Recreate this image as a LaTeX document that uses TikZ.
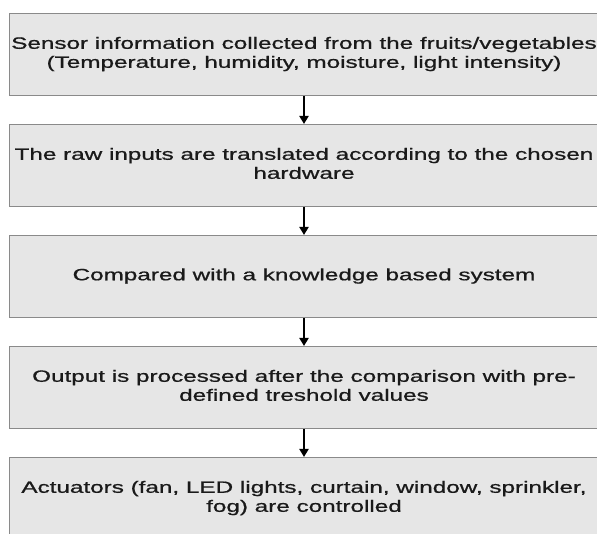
\documentclass[tikz,border=0pt]{standalone}
\usepackage{fontspec}
\setmainfont{Liberation Sans}
\usetikzlibrary{arrows.meta}
\definecolor{boxfill}{HTML}{E6E6E6}
\definecolor{boxline}{HTML}{8A8A8A}
\definecolor{txt}{HTML}{1A1A1A}
\newcommand{\boxtext}[1]{\scalebox{1.48}[1]{\fontsize{12.3}{14.25}\selectfont\addfontfeature{FakeBold=0.7}\begin{tabular}{@{}c@{}}#1\end{tabular}}}
\begin{document}
\begin{tikzpicture}[x=0.75pt,y=-0.75pt,
  stepbox/.style={draw=boxline, line width=0.9pt, fill=boxfill, rectangle,
    minimum width=442pt, minimum height=61.5pt, inner sep=0pt, text=txt},
  flow/.style={draw=black, line width=1pt, -{Triangle[length=6pt,width=7pt]}}]
\useasboundingbox (0,0) rectangle (597,534);
\fill[white] (0,0) rectangle (597,534);
\clip (0,0) rectangle (597,534);
\node[stepbox] (b1) at (304,54.5) {\boxtext{Sensor information collected from the fruits/vegetables\\(Temperature, humidity, moisture, light intensity)}};
\node[stepbox] (b2) at (304,165.5) {\boxtext{The raw inputs are translated according to the chosen\\hardware}};
\node[stepbox] (b3) at (304,276.5) {\boxtext{Compared with a knowledge based system}};
\node[stepbox] (b4) at (304,387.5) {\boxtext{Output is processed after the comparison with pre-\\defined treshold values}};
\node[stepbox] (b5) at (304,498.5) {\boxtext{Actuators (fan, LED lights, curtain, window, sprinkler,\\fog) are controlled}};
\draw[flow] (b1.south) -- (b2.north);
\draw[flow] (b2.south) -- (b3.north);
\draw[flow] (b3.south) -- (b4.north);
\draw[flow] (b4.south) -- (b5.north);
\end{tikzpicture}
\end{document}
